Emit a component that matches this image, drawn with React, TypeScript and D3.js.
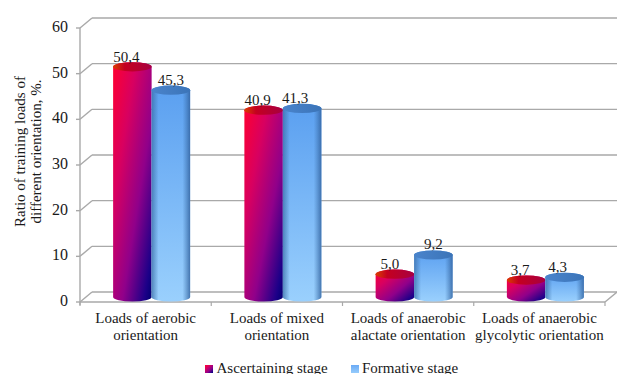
import React from "react";
import * as d3 from "d3";

const categories: string[][] = [
  ["Loads of aerobic", "orientation"],
  ["Loads of mixed", "orientation"],
  ["Loads of anaerobic", "alactate orientation"],
  ["Loads of anaerobic", "glycolytic orientation"],
];
const ascertaining = [50.4, 40.9, 5.0, 3.7];
const formative = [45.3, 41.3, 9.2, 4.3];
const yTicks = [0, 10, 20, 30, 40, 50, 60];
const seriesNames = ["Ascertaining stage", "Formative stage"];

// Horizontal label shifts, in pixels, relative to each cylinder's axis.
const ascertainingLabelShift = [-6, -6, -5, -6];
const formativeLabelShift = [0, -7, 0, -7];

const WIDTH = 617;
const HEIGHT = 374;
const FONT = "'Liberation Serif', 'Times New Roman', serif";
const GRID = "#a9a9a9";

// The floor is drawn in an oblique projection: the back wall sits up and to the right.
const depthX = 12;
const depthY = 9;
const plotLeft = 80;
const plotRight = 605;
const floorY = 301;

const yFront = d3.scaleLinear().domain([0, 60]).range([floorY, 27]);
const yBack = (v: number) => yFront(v) - depthY;
const yBar = (v: number) => yFront(v) - 4;

const x0 = d3
  .scaleBand<number>()
  .domain(d3.range(categories.length))
  .range([plotLeft, plotRight]);
const barW = 38.5;
const rx = barW / 2;
const ry = 4.6;

function cylinderPath(cx: number, top: number, bottom: number) {
  return `M${cx - rx},${top} L${cx - rx},${bottom} A${rx},${ry} 0 0 0 ${cx + rx},${bottom} L${cx + rx},${top} A${rx},${ry} 0 0 0 ${cx - rx},${top} Z`;
}

function Cylinder({ cx, value, kind }: { cx: number; value: number; kind: "red" | "blue" }) {
  const top = yBar(value);
  const bottom = yBar(0);
  const d = cylinderPath(cx, top, bottom);
  return (
    <g>
      <path d={d} fill={`url(#${kind}Body)`} />
      {kind === "blue" && <path d={d} fill="url(#blueEdge)" />}
      <ellipse cx={cx} cy={top} rx={rx} ry={ry} fill={`url(#${kind}Cap)`} />
    </g>
  );
}

export default function App() {
  const groupCenter = (i: number) => x0(i)! + x0.bandwidth() / 2 + 6;
  return (
    <svg
      width={WIDTH}
      height={HEIGHT}
      style={{ position: "absolute", left: 0, top: 0, background: "#fff" }}
      fontFamily={FONT}
      fill="#1a1a1a"
    >
      <defs>
        <linearGradient id="redBody" x1="0" y1="0" x2="1" y2="1">
          <stop offset="0" stopColor="#ff0030" />
          <stop offset="0.3" stopColor="#d80060" />
          <stop offset="0.62" stopColor="#90008a" />
          <stop offset="0.9" stopColor="#1c0088" />
          <stop offset="1" stopColor="#000070" />
        </linearGradient>
        <linearGradient id="redCap" x1="0" y1="0" x2="1" y2="0">
          <stop offset="0" stopColor="#d84000" />
          <stop offset="0.3" stopColor="#c40020" />
          <stop offset="1" stopColor="#a80040" />
        </linearGradient>
        <linearGradient id="blueBody" x1="0" y1="0" x2="0" y2="1">
          <stop offset="0" stopColor="#5a9ff0" />
          <stop offset="1" stopColor="#9ad0fd" />
        </linearGradient>
        <linearGradient id="blueEdge" x1="0" y1="0" x2="1" y2="0">
          <stop offset="0" stopColor="#3a6ea8" stopOpacity="0.75" />
          <stop offset="0.18" stopColor="#3a6ea8" stopOpacity="0" />
          <stop offset="0.8" stopColor="#3a6ea8" stopOpacity="0" />
          <stop offset="1" stopColor="#2f5f9c" stopOpacity="0.8" />
        </linearGradient>
        <linearGradient id="blueCap" x1="0" y1="0" x2="1" y2="0">
          <stop offset="0" stopColor="#4a84cc" />
          <stop offset="1" stopColor="#3b74b8" />
        </linearGradient>
        <linearGradient id="blueLegend" x1="0" y1="0" x2="0" y2="1">
          <stop offset="0" stopColor="#6aaaf5" />
          <stop offset="1" stopColor="#96ccfc" />
        </linearGradient>
      </defs>

      {/* back wall gridlines and their short diagonal connectors to the axis */}
      {yTicks.map((t) => (
        <g key={t} stroke={GRID} strokeWidth={1.4} fill="none">
          <line x1={plotLeft + depthX} x2={WIDTH} y1={yBack(t)} y2={yBack(t)} />
          <line x1={plotLeft - 4} y1={yFront(t) + 1} x2={plotLeft} y2={yFront(t) + 1} />
          <line x1={plotLeft} y1={yFront(t) + 1} x2={plotLeft + depthX} y2={yBack(t)} />
        </g>
      ))}

      {/* axes */}
      <line x1={plotLeft} x2={plotLeft} y1={yFront(60) + 1} y2={floorY + 4} stroke={GRID} strokeWidth={1.4} />
      <line x1={plotLeft} x2={plotRight} y1={floorY + 1} y2={floorY + 1} stroke={GRID} strokeWidth={1.4} />
      <line x1={plotRight} y1={floorY + 1} x2={plotRight + depthX} y2={yBack(0)} stroke={GRID} strokeWidth={1.4} />
      {d3.range(categories.length + 1).map((i) => {
        const x = plotLeft + i * x0.step();
        return <line key={i} x1={x} x2={x} y1={floorY + 1} y2={floorY + 5} stroke={GRID} strokeWidth={1.2} />;
      })}

      {yTicks.map((t) => (
        <text key={t} x={plotLeft - 12} y={yFront(t) + 5} textAnchor="end" fontSize={16}>
          {t}
        </text>
      ))}

      {/* y axis title */}
      <g transform="translate(24.5,151.5) rotate(-90)" fontSize={15} textAnchor="middle">
        <text x={0} y={0}>Ratio of training loads of</text>
        <text x={0} y={16.5}>different orientation, %.</text>
      </g>

      {/* cylinders and their value labels */}
      {categories.map((_, i) => {
        const c = groupCenter(i);
        const redX = c - barW / 2;
        const blueX = c + barW / 2;
        return (
          <g key={i}>
            <Cylinder cx={redX} value={ascertaining[i]} kind="red" />
            <Cylinder cx={blueX} value={formative[i]} kind="blue" />
            <text
              x={redX + ascertainingLabelShift[i]}
              y={yBar(ascertaining[i]) - 5}
              textAnchor="middle"
              fontSize={15}
            >
              {ascertaining[i].toFixed(1).replace(".", ",")}
            </text>
            <text
              x={blueX + formativeLabelShift[i]}
              y={yBar(formative[i]) - 5.5}
              textAnchor="middle"
              fontSize={15}
            >
              {formative[i].toFixed(1).replace(".", ",")}
            </text>
          </g>
        );
      })}

      {/* category labels */}
      {categories.map((lines, i) => (
        <g key={i} fontSize={15} textAnchor="middle">
          <text x={plotLeft + (i + 0.5) * x0.step()} y={323}>{lines[0]}</text>
          <text x={plotLeft + (i + 0.5) * x0.step()} y={340}>{lines[1]}</text>
        </g>
      ))}

      {/* legend */}
      <rect x={205} y={365} width={8} height={8} fill="url(#redBody)" />
      <text x={216.5} y={372.5} fontSize={15}>{seriesNames[0]}</text>
      <rect x={351} y={365} width={8} height={8} fill="url(#blueLegend)" />
      <text x={362} y={372.5} fontSize={15}>{seriesNames[1]}</text>
    </svg>
  );
}
